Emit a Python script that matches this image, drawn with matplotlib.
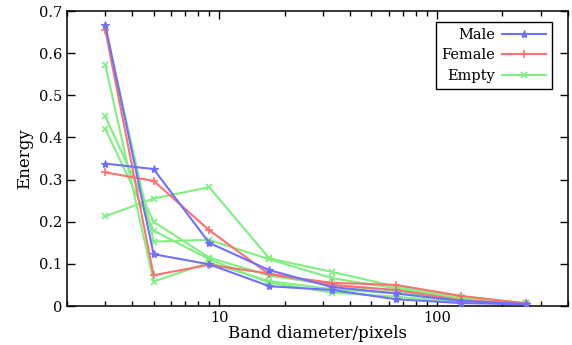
import matplotlib
matplotlib.use('Agg')
import matplotlib.pyplot as plt
from matplotlib.ticker import LogLocator, NullFormatter, FixedLocator, FixedFormatter

# band diameters (pixels)
diameters = [3, 5, 9, 17, 33, 65, 129, 257]

male = [
    [0.667, 0.123, 0.099, 0.047, 0.038, 0.016, 0.007, 0.004],
    [0.338, 0.325, 0.150, 0.085, 0.045, 0.030, 0.012, 0.005],
]
female = [
    [0.655, 0.073, 0.098, 0.077, 0.050, 0.038, 0.014, 0.004],
    [0.317, 0.297, 0.180, 0.075, 0.055, 0.050, 0.024, 0.006],
]
empty = [
    [0.213, 0.255, 0.282, 0.113, 0.081, 0.046, 0.022, 0.007],
    [0.660, 0.153, 0.157, 0.111, 0.066, 0.042, 0.018, 0.006],
    [0.572, 0.058, 0.103, 0.059, 0.040, 0.030, 0.012, 0.005],
    [0.450, 0.200, 0.115, 0.072, 0.050, 0.036, 0.016, 0.005],
    [0.420, 0.179, 0.111, 0.055, 0.032, 0.022, 0.010, 0.004],
]

yticks = [0, 0.1, 0.2, 0.3, 0.4, 0.5, 0.6, 0.7]
ytick_labels = ['0', '0.1', '0.2', '0.3', '0.4', '0.5', '0.6', '0.7']
xticks = [10, 100]
xtick_labels = ['10', '100']

plt.rcParams['font.family'] = ['DejaVu Serif']

fig = plt.figure(figsize=(5.72, 3.45), dpi=100)
ax = fig.add_axes([0.117, 0.113, 0.876, 0.855])

# empty drawn first, then female, then male on top
for i, vals in enumerate(empty):
    ax.plot(diameters, vals, color='#80f080', marker='x', ms=4.5, mew=1.2, lw=1.5,
            label='Empty' if i == 0 else None, zorder=2)
for i, vals in enumerate(female):
    ax.plot(diameters, vals, color='#ff7070', marker='+', ms=6, mew=1.2, lw=1.5,
            label='Female' if i == 0 else None, zorder=3)
for i, vals in enumerate(male):
    ax.plot(diameters, vals, color='#7070ff', marker='*', ms=6, mew=0.8, lw=1.5,
            label='Male' if i == 0 else None, zorder=4)

ax.set_xscale('log')
ax.set_xlim(2, 400)
ax.set_ylim(0, 0.7)

ax.xaxis.set_major_locator(FixedLocator(xticks))
ax.xaxis.set_major_formatter(FixedFormatter(xtick_labels))
ax.xaxis.set_minor_locator(LogLocator(base=10, subs=range(2, 10), numticks=20))
ax.xaxis.set_minor_formatter(NullFormatter())
ax.set_yticks(yticks)
ax.set_yticklabels(ytick_labels)

ax.tick_params(which='both', direction='in', top=True, right=True, labelsize=10.5)
ax.tick_params(which='major', length=6, width=1)
ax.tick_params(which='minor', length=3.5, width=1)
for sp in ax.spines.values():
    sp.set_linewidth(1.1)

ax.set_xlabel('Band diameter/pixels', fontsize=12, labelpad=0)
ax.set_ylabel('Energy', fontsize=12, labelpad=4)

handles, labels = ax.get_legend_handles_labels()
order = [labels.index('Male'), labels.index('Female'), labels.index('Empty')]
leg = ax.legend([handles[k] for k in order], [labels[k] for k in order],
                loc='upper right', bbox_to_anchor=(0.968, 0.963), borderaxespad=0,
                markerfirst=False, fancybox=False, edgecolor='black', framealpha=1,
                fontsize=10.5, handlelength=3.0, borderpad=0.4, labelspacing=0.45,
                handletextpad=0.5)
leg.get_frame().set_linewidth(1.0)
for t in leg.get_texts():
    t.set_ha('right')

fig.savefig('out.png', dpi=100)
